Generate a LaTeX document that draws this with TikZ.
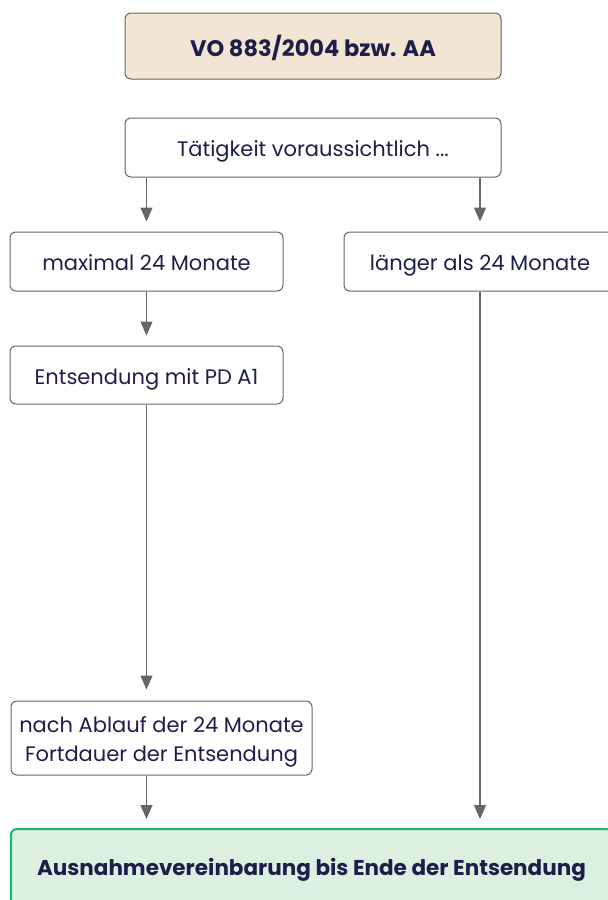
\documentclass[tikz,border=0pt]{standalone}
\usepackage{fontspec}
\setmainfont{Poppins}
\usetikzlibrary{arrows.meta}
\definecolor{navy}{HTML}{1E1E4B}
\definecolor{edge}{HTML}{666666}
\definecolor{beige}{HTML}{F2E5D3}
\definecolor{mint}{HTML}{DCF0E2}
\definecolor{greenb}{HTML}{1DB56B}
\tikzset{
  box/.style={draw=edge, line width=1pt, rounded corners=6pt, fill=white,
    text=navy, inner sep=0pt, align=center,
    font=\fontsize{21}{29.4}\selectfont},
  one/.style={text height=19pt, text depth=1pt},
  conn/.style={draw=edge, line width=1.3pt, -{Triangle[width=12pt,length=14pt]}}
}
\begin{document}
\begin{tikzpicture}[x=1pt,y=-1pt]
\clip (0,0) rectangle (608,900);
\useasboundingbox (0,0) rectangle (608,900);
\node[box, text height=21pt, text depth=1pt, fill=beige, minimum width=376pt, minimum height=66pt,
  font=\fontsize{22.5}{28}\selectfont\bfseries] (top) at (313,46) {VO 883/2004 bzw. AA};
\node[box, text height=18pt, text depth=1pt, minimum width=376pt, minimum height=59pt] (tat) at (313,147.5) {Tätigkeit voraussichtlich ...};
\node[box, one, minimum width=273pt, minimum height=59pt] (max) at (146.5,261.5) {maximal 24 Monate};
\node[box, one, minimum width=272pt, minimum height=59pt] (lang) at (480,261.5) {länger als 24 Monate};
\node[box, one, minimum width=273pt, minimum height=58pt] (ent) at (146.5,375) {Entsendung mit PD A1};
\node[box, text height=48.4pt, text depth=1pt, minimum width=301pt, minimum height=74pt] (nach) at (161.5,738) {nach Ablauf der 24 Monate\\Fortdauer der Entsendung};
\node[box, text height=14pt, text depth=2pt, draw=greenb, line width=2pt, fill=mint, minimum width=601pt, minimum height=80pt,
  font=\fontsize{21.5}{28}\selectfont\bfseries] (green) at (311.5,869) {Ausnahmevereinbarung bis Ende der Entsendung};
\draw[conn, shorten >=10pt] (tat.south -| max.north) -- (max.north);
\draw[conn, shorten >=10pt] (tat.south -| lang.north) -- (lang.north);
\draw[conn, shorten >=10pt] (max.south) -- (ent.north);
\draw[conn, shorten >=11pt] (ent.south) -- (nach.north -| ent.south);
\draw[conn, shorten >=9pt] (nach.south -| ent.south) -- (green.north -| ent.south);
\draw[conn, shorten >=9pt] (lang.south) -- (green.north -| lang.south);
\end{tikzpicture}
\end{document}
